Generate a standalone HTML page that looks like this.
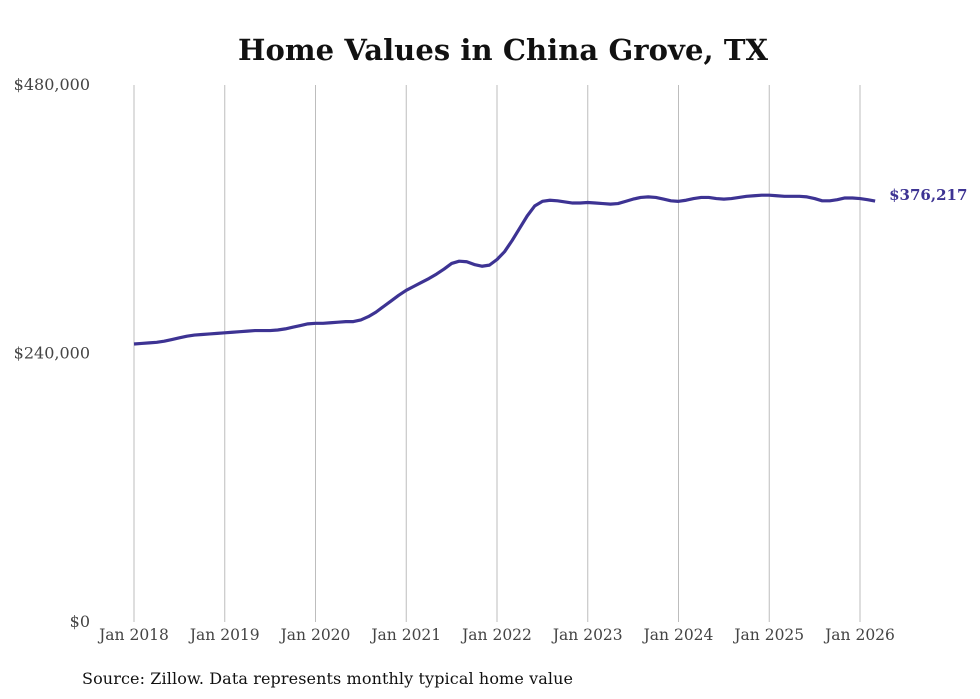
<!DOCTYPE html>
<html><head><meta charset="utf-8"><style>
body{margin:0;background:#fff;}
svg{display:block;}
text{font-family:"DejaVu Serif","Liberation Serif",serif;}
</style></head><body>
<svg id="chart" width="980" height="699">
<text x="503" y="60" text-anchor="middle" font-size="29" font-weight="bold" fill="#111" textLength="530">Home Values in China Grove, TX</text>
<g id="grid"></g>
<g id="yaxis"></g>
<g id="xaxis"></g>
<path id="line" fill="none" stroke="#3d3393" stroke-width="3.2" stroke-linejoin="round"></path>
<text id="endlabel" font-size="15" font-weight="bold" fill="#3d3393"></text>
<text x="82" y="684" font-size="16" fill="#111" textLength="491">Source: Zillow. Data represents monthly typical home value</text>
</svg>
<script>
const yTicks=[0,240000,480000];
const yTickLabels=["$0","$240,000","$480,000"];
const xYears=[2018,2019,2020,2021,2022,2023,2024,2025,2026];
const xTickLabels=["Jan 2018","Jan 2019","Jan 2020","Jan 2021","Jan 2022","Jan 2023","Jan 2024","Jan 2025","Jan 2026"];
const startYear=2018;
const values=[
248.5,249,249.5,250,251,252.5,254,255.5,256.5,257,257.5,258,
258.5,259,259.5,260,260.5,260.5,260.5,261,262,263.5,265,266.5,
267,267,267.5,268,268.5,268.5,270,273,277,282,287,292,
296.5,300,303.5,307,311,315.5,320.5,322.5,322,319.5,318,319,
324,331,341,352,363,372,376,377,376.5,375.5,374.5,374.5,
375,374.5,374,373.5,374,376,378,379.5,380,379.5,378,376.5,
376,377,378.5,379.5,379.5,378.5,378,378.5,379.5,380.5,381,381.5,
381.5,381,380.5,380.5,380.5,380,378.5,376.5,376.5,377.5,379,379,
378.5,377.5,376.217
];
const lastLabel="$376,217";
const NS="http://www.w3.org/2000/svg";
function yScale(v){return 622-(v/480000)*537;}
function xScale(m){return 134+m*(90.75/12);}
function mk(tag,attrs,parent){const e=document.createElementNS(NS,tag);for(const k in attrs)e.setAttribute(k,attrs[k]);parent.appendChild(e);return e;}
const grid=document.getElementById('grid'),ya=document.getElementById('yaxis'),xa=document.getElementById('xaxis');
xYears.forEach((yr,i)=>{
  const x=xScale((yr-startYear)*12);
  const l=mk('line',{x1:x,x2:x,y1:85,y2:622,stroke:'#bdbdbd','stroke-width':1},grid);
  
  
  const t=mk('text',{x:x,y:640,'text-anchor':'middle','font-size':15.5,fill:'#444'},xa);
  t.textContent=xTickLabels[i];
  
  
});
yTicks.forEach((v,i)=>{
  const t=mk('text',{x:90,y:yScale(v)+5,'text-anchor':'end','font-size':16,fill:'#444'},ya);
  t.textContent=yTickLabels[i];
  
  
});
let d='';
values.forEach((v,i)=>{d+=(i?'L':'M')+xScale(i).toFixed(2)+','+yScale(v*1000).toFixed(2);});
document.getElementById('line').setAttribute('d',d);
const el=document.getElementById('endlabel');
const li=values.length-1;
el.setAttribute('x',xScale(li)+14);
el.setAttribute('y',yScale(values[li]*1000)-1);
el.textContent=lastLabel;
</script>
</body></html>
